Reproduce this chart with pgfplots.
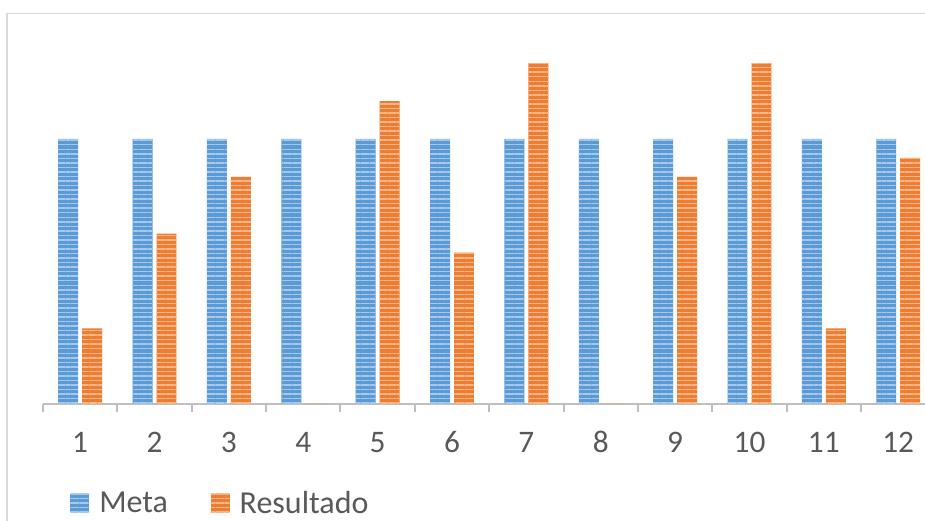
\documentclass[border=0pt]{standalone}
\usepackage{pgfplots}
\pgfplotsset{compat=1.18}
\usetikzlibrary{patterns.meta}
\usepackage{fontspec}
\setmainfont{Carlito}
\definecolor{metablue}{HTML}{5B9BD5}
\definecolor{metalight}{HTML}{A7C8EA}
\definecolor{resorange}{HTML}{ED7D31}
\definecolor{reslight}{HTML}{F5B68C}
\definecolor{txtgray}{HTML}{595959}
\definecolor{axgray}{HTML}{BFBFBF}
\definecolor{framegray}{HTML}{D9D9D9}

\begin{document}
\begin{tikzpicture}
% chart frame (partly outside the cropped picture)
\draw[framegray, line width=0.9pt] (5.25pt,-30pt) -- (5.25pt,380.6pt) -- (760pt,380.6pt);

\begin{axis}[
    at={(32.25pt,87.75pt)}, anchor=south west,
    scale only axis, width=661.5pt, height=292.5pt,
    xmin=0.5, xmax=12.36, ymin=0, ymax=20.6,
    axis x line*=bottom, axis y line=none,
    x axis line style={axgray, line width=1.5pt, -},
    xtick={1,...,12}, major tick length=0pt,
    minor xtick={0.5,1.5,...,11.5},
    minor tick length=6pt, tick align=outside,
    minor tick style={axgray, line width=1.5pt},
    /pgf/number format/assume math mode=true,
    typeset ticklabels with strut,
    xticklabel style={text=txtgray, font=\fontsize{23.5}{28}\selectfont, yshift=-13pt},
    ybar, bar width=0.268,
    legend columns=2,
    legend style={at={(axis description cs:0.0306,-0.254)}, anchor=west,
        draw=none, fill=none, inner sep=0pt,
        font=\fontsize{24}{28}\selectfont, text=txtgray,
        /tikz/every odd column/.append style={column sep=5.5pt},
        /tikz/every even column/.append style={column sep=30pt}},
    legend image code/.code={\fill[#1] (0pt,-7pt) rectangle (14.25pt,7pt);},
]
\addplot[bar shift=-0.161, draw=none, fill=metablue,
    postaction={pattern={Lines[angle=0,distance=3.4pt,line width=1.1pt]}, pattern color=metalight}]
    coordinates {(1,14) (2,14) (3,14) (4,14) (5,14) (6,14) (7,14) (8,14) (9,14) (10,14) (11,14) (12,14)};
\addlegendentry{Meta}
\addplot[bar shift=0.161, draw=none, fill=resorange,
    postaction={pattern={Lines[angle=0,distance=3.4pt,line width=1.1pt]}, pattern color=reslight}]
    coordinates {(1,4) (2,9) (3,12) (4,0) (5,16) (6,8) (7,18) (8,0) (9,12) (10,18) (11,4) (12,13)};
\addlegendentry{Resultado}
\end{axis}
\pgfresetboundingbox
\useasboundingbox (0,0) rectangle (693.75pt,390.75pt);
\end{tikzpicture}
\end{document}
